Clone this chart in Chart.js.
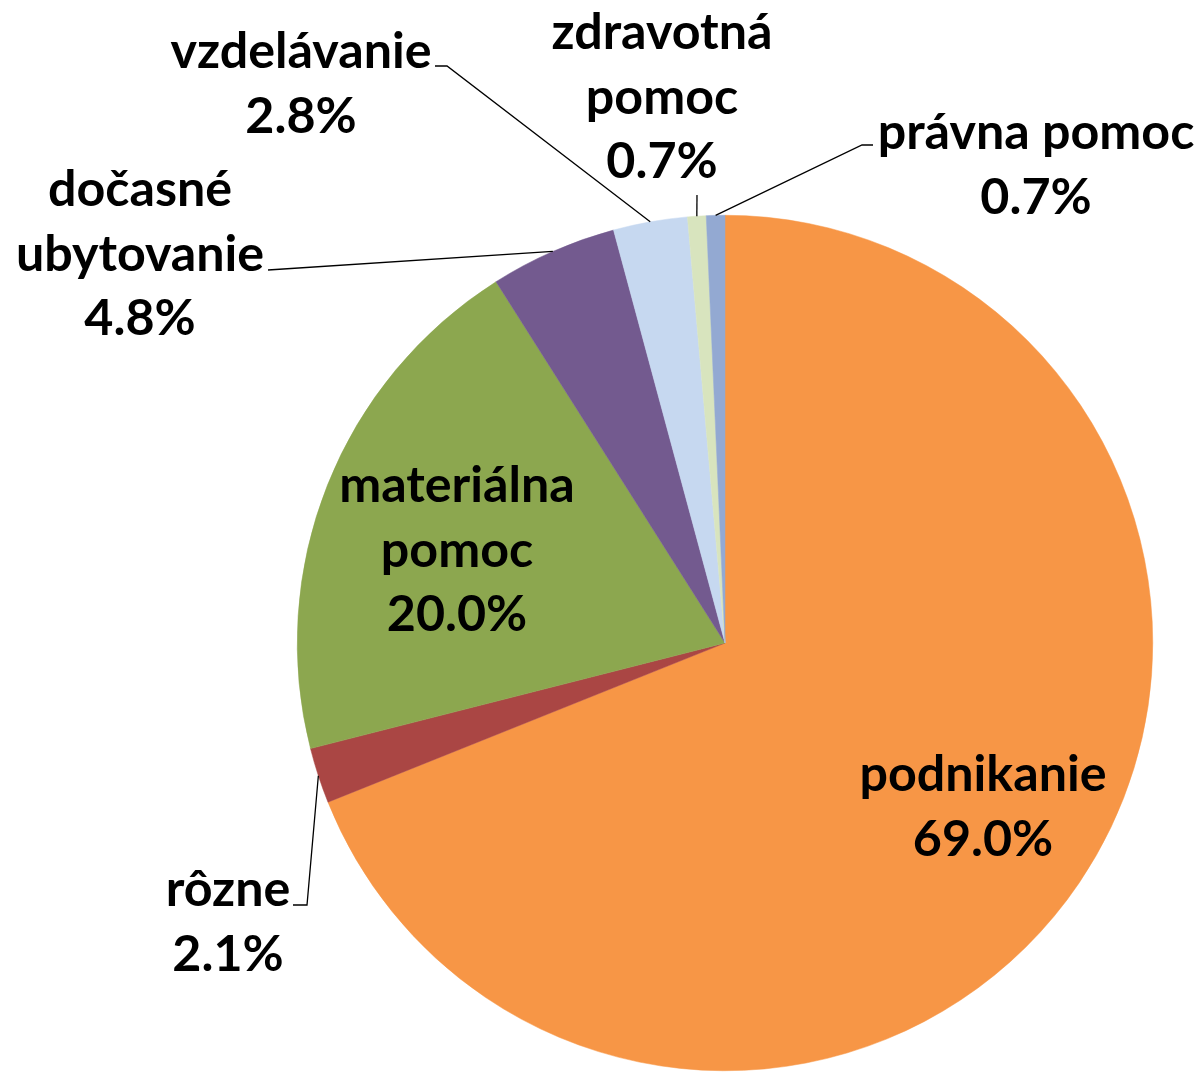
<!DOCTYPE html>
<html>
<head>
<meta charset="utf-8">
<script src="https://cdn.jsdelivr.net/npm/chart.js@4.4.0/dist/chart.umd.min.js"></script>
<style>
html,body{margin:0;padding:0;background:#fff;}
#wrap{width:1199px;height:1073px;position:relative;}
</style>
</head>
<body>
<div id="wrap"><canvas id="c" width="1199" height="1073"></canvas></div>
<script>
const categories = ['podnikanie', 'rôzne', 'materiálna pomoc', 'dočasné ubytovanie', 'vzdelávanie', 'zdravotná pomoc', 'právna pomoc'];
const values = [69.0, 2.1, 20.0, 4.8, 2.8, 0.7, 0.7];
const colors = ['#F79646', '#AA4644', '#8CA74F', '#735A8F', '#C6D8F0', '#D8E4BE', '#93A9D2'];
// label text lines (category split + percentage)
const labelLines = [
  ['podnikanie', '69.0%'],
  ['rôzne', '2.1%'],
  ['materiálna', 'pomoc', '20.0%'],
  ['dočasné', 'ubytovanie', '4.8%'],
  ['vzdelávanie', '2.8%'],
  ['zdravotná', 'pomoc', '0.7%'],
  ['právna pomoc', '0.7%']
];
// label layout: centre x, first line y, leader: anchor point and elbow
const labelLayout = [
  {x: 983, y: 775, leader: null},
  {x: 228, y: 890, leader: [[293, 905], [307, 905]]},
  {x: 457, y: 486, leader: null},
  {x: 140, y: 190, leader: [[268, 270]]},
  {x: 301, y: 52, leader: [[435, 66], [447, 66]]},
  {x: 662, y: 33, leader: [[697, 195]]},
  {x: 1036, y: 133, leader: [[873, 145], [862, 145]]}
];

const labelPlugin = {
  id: 'labels',
  afterDatasetsDraw(chart) {
    const ctx = chart.ctx;
    const meta = chart.getDatasetMeta(0);
    ctx.save();
    // font sized so that "podnikanie" is ~247px wide
    ctx.font = 'bold 100px Lato';
    const w = ctx.measureText('podnikanie').width;
    const fs = 100 * 247 / w;
    ctx.font = 'bold ' + fs.toFixed(1) + 'px Lato';
    ctx.fillStyle = '#000';
    ctx.textAlign = 'center';
    ctx.textBaseline = 'middle';
    const lh = 64.5;
    meta.data.forEach((arc, i) => {
      const lay = labelLayout[i];
      const p = arc.getProps(['x', 'y', 'startAngle', 'endAngle', 'outerRadius'], true);
      if (lay.leader) {
        const mid = (p.startAngle + p.endAngle) / 2;
        const ex = p.x + Math.cos(mid) * p.outerRadius;
        const ey = p.y + Math.sin(mid) * p.outerRadius;
        ctx.beginPath();
        ctx.strokeStyle = '#000';
        ctx.lineWidth = 1.3;
        ctx.moveTo(lay.leader[0][0], lay.leader[0][1]);
        for (let k = 1; k < lay.leader.length; k++) ctx.lineTo(lay.leader[k][0], lay.leader[k][1]);
        ctx.lineTo(ex, ey);
        ctx.stroke();
      }
      labelLines[i].forEach((t, j) => {
        ctx.fillText(t, lay.x, lay.y + j * lh);
      });
    });
    ctx.restore();
  }
};

new Chart(document.getElementById('c'), {
  type: 'pie',
  data: {
    labels: categories,
    datasets: [{
      data: values,
      backgroundColor: colors,
      borderColor: colors,
      borderWidth: 0.5
    }]
  },
  options: {
    responsive: false,
    animation: false,
    events: [],
    layout: {padding: {left: 297, right: 46, top: 215, bottom: 2}},
    plugins: {legend: {display: false}, tooltip: {enabled: false}}
  },
  plugins: [labelPlugin]
});
</script>
</body>
</html>
